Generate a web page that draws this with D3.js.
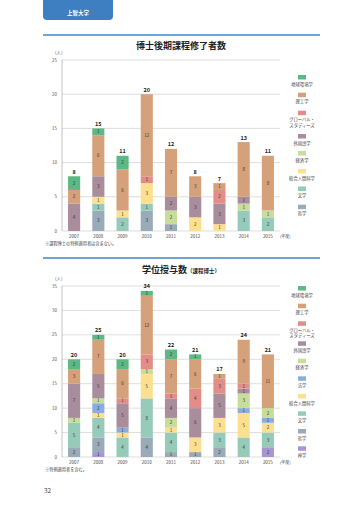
<!DOCTYPE html>
<html><head><meta charset="utf-8">
<script src="https://cdn.jsdelivr.net/npm/d3@7"></script>
<style>
body{margin:0;background:#fff;}
svg{display:block;font-family:"Noto Sans CJK JP","Noto Sans",sans-serif;}
</style></head><body>
<svg id="c" width="360" height="509"></svg>
<script>
const years = ["2007","2008","2009","2010","2011","2012","2013","2014","2015"];

// Chart 1: 博士後期課程修了者数 (stack order bottom -> top)
const c1Keys = ["哲学","文学","総合人間科学","経済学","外国語学","グローバル・スタディーズ","理工学","地球環境学"];
const c1_哲学 = [0,3,0,3,1,0,0,0,0];
const c1_文学 = [0,1,2,1,0,0,0,3,2];
const c1_総合人間科学 = [0,1,1,3,0,2,1,0,0];
const c1_経済学 = [0,0,0,0,2,0,0,1,1];
const c1_外国語学 = [4,3,0,0,2,3,3,1,0];
const c1_グローバル = [0,0,0,1,0,0,2,0,0];
const c1_理工学 = [2,6,6,12,7,3,1,8,8];
const c1_地球環境学 = [2,1,2,0,0,0,0,0,0];
const c1Ticks = [0,5,10,15,20,25];

// Chart 2: 学位授与数（課程博士）
const c2Keys = ["神学","哲学","文学","総合人間科学","法学","経済学","外国語学","グローバル・スタディーズ","理工学","地球環境学"];
const c2_神学 = [0,1,0,0,0,0,0,0,2];
const c2_哲学 = [2,3,0,4,1,1,2,0,0];
const c2_文学 = [5,4,4,8,4,0,3,4,3];
const c2_総合人間科学 = [0,1,1,5,1,3,3,5,2];
const c2_法学 = [0,2,1,0,0,0,0,1,1];
const c2_経済学 = [1,1,0,1,2,0,0,3,2];
const c2_外国語学 = [7,5,5,0,4,6,5,1,0];
const c2_グローバル = [0,0,1,3,1,4,3,1,0];
const c2_理工学 = [3,7,6,12,7,6,1,9,11];
const c2_地球環境学 = [2,1,2,1,2,1,0,0,0];
const c2Ticks = [0,5,10,15,20,25,30,35];

const colors = {
  "地球環境学":"#5cb884","理工学":"#d5a17a","グローバル・スタディーズ":"#e38d88",
  "外国語学":"#a98d9d","経済学":"#c9dd9a","法学":"#8aaedc","総合人間科学":"#fde08f",
  "文学":"#96cbba","哲学":"#99aab8","神学":"#a796d2"
};

const c1Series = {"哲学":c1_哲学,"文学":c1_文学,"総合人間科学":c1_総合人間科学,"経済学":c1_経済学,"外国語学":c1_外国語学,"グローバル・スタディーズ":c1_グローバル,"理工学":c1_理工学,"地球環境学":c1_地球環境学};
const c2Series = {"神学":c2_神学,"哲学":c2_哲学,"文学":c2_文学,"総合人間科学":c2_総合人間科学,"法学":c2_法学,"経済学":c2_経済学,"外国語学":c2_外国語学,"グローバル・スタディーズ":c2_グローバル,"理工学":c2_理工学,"地球環境学":c2_地球環境学};

const svg = d3.select("#c");

// header tab
svg.append("rect").attr("x",43).attr("y",-6).attr("width",70).attr("height",26).attr("rx",4).attr("fill","#3d7fc1");
svg.append("text").attr("x",78).attr("y",15).attr("text-anchor","middle").attr("fill","#fff")
  .attr("font-size",5.5).attr("font-weight","bold").text("上智大学");

function drawChart(opt){
  const g = svg.append("g");
  g.append("line").attr("x1",43).attr("x2",320).attr("y1",opt.lineY).attr("y2",opt.lineY)
    .attr("stroke","#3d88c9").attr("stroke-width",1.5);
  const t = g.append("text").attr("x",181).attr("y",opt.titleY).attr("text-anchor","middle")
    .attr("font-size",9).attr("font-weight","bold").attr("fill","#222");
  t.append("tspan").text(opt.title);
  if(opt.sub) t.append("tspan").attr("font-size",5.5).text(opt.sub);

  const x = d3.scaleBand().domain(years).range([62,280]).paddingInner(0.5).paddingOuter(0.25);
  const y = d3.scaleLinear().domain([0,opt.max]).range([opt.y0,opt.yTop]);

  g.append("text").attr("x",55).attr("y",opt.yTop-6).attr("font-size",4.5).attr("fill","#555").text("(人)");

  // grid
  g.selectAll(".grid").data(opt.ticks).enter().append("line")
    .attr("x1",62).attr("x2",280).attr("y1",d=>y(d)).attr("y2",d=>y(d))
    .attr("stroke","#d0d0d0").attr("stroke-width",0.7);
  g.selectAll(".tl").data(opt.ticks).enter().append("text")
    .attr("x",57).attr("y",d=>y(d)+1.6).attr("text-anchor","end").attr("font-size",4.5).attr("fill","#555").text(d=>d);
  g.append("line").attr("x1",62).attr("x2",62).attr("y1",opt.yTop).attr("y2",opt.y0).attr("stroke","#aaa").attr("stroke-width",0.7);

  const rows = years.map((yr,i)=>{const r={year:yr}; opt.keys.forEach(k=>r[k]=opt.series[k][i]); return r;});
  const stack = d3.stack().keys(opt.keys)(rows);
  stack.forEach(layer=>{
    const k = layer.key;
    layer.forEach((d,i)=>{
      const v = d[1]-d[0];
      if(v<=0) return;
      g.append("rect").attr("x",x(years[i])).attr("width",x.bandwidth())
        .attr("y",y(d[1])).attr("height",y(d[0])-y(d[1])).attr("fill",colors[k]);
      g.append("text").attr("x",x(years[i])+x.bandwidth()/2).attr("y",(y(d[0])+y(d[1]))/2+1.6)
        .attr("text-anchor","middle").attr("font-size",4.5).attr("fill","#333").text(v);
    });
  });
  // totals
  rows.forEach((r,i)=>{
    const tot = d3.sum(opt.keys,k=>r[k]);
    g.append("text").attr("x",x(years[i])+x.bandwidth()/2).attr("y",y(tot)-2.5)
      .attr("text-anchor","middle").attr("font-size",5.5).attr("font-weight","bold").attr("fill","#222").text(tot);
  });
  // x labels
  years.forEach(yr=>{
    g.append("text").attr("x",x(yr)+x.bandwidth()/2).attr("y",opt.y0+7).attr("text-anchor","middle")
      .attr("font-size",4.5).attr("fill","#444").text(yr);
  });
  g.append("text").attr("x",280).attr("y",opt.y0+7).attr("font-size",4).attr("fill","#444").text("(年度)");
  g.append("text").attr("x",45).attr("y",opt.y0+14).attr("font-size",4.2).attr("fill","#444").text(opt.note);

  // legend
  opt.legend.forEach((L,i)=>{
    const sy = opt.legendY[i];
    g.append("rect").attr("x",298).attr("y",sy-2).attr("width",8).attr("height",4.5).attr("fill",colors[L]);
    const lines = L==="グローバル・スタディーズ" ? ["グローバル・","スタディーズ"] : [L];
    lines.forEach((ln,j)=>{
      g.append("text").attr("x",302).attr("y",sy+8.5+j*5.3).attr("text-anchor","middle")
        .attr("font-size",4.3).attr("fill","#444").text(ln);
    });
  });
}

drawChart({
  lineY:35, titleY:49, title:"博士後期課程修了者数", sub:null,
  max:25, y0:231, yTop:60, ticks:c1Ticks, keys:c1Keys, series:c1Series,
  note:"※課程博士の特例適用者は含まない。",
  legend:["地球環境学","理工学","グローバル・スタディーズ","外国語学","経済学","総合人間科学","文学","哲学"],
  legendY:[77,94.7,112.7,136,153,171,188.5,206.7]
});
drawChart({
  lineY:258, titleY:273, title:"学位授与数", sub:"（課程博士）",
  max:35, y0:457, yTop:286, ticks:c2Ticks, keys:c2Keys, series:c2Series,
  note:"※特例適用者を含む。",
  legend:["地球環境学","理工学","グローバル・スタディーズ","外国語学","経済学","法学","総合人間科学","文学","哲学","神学"],
  legendY:[288,305.7,323.3,343.3,360.7,378.3,396,413.3,431,448.3]
});
svg.append("text").attr("x",44).attr("y",493).attr("font-size",6.5).attr("fill","#444").text("32");
</script></body></html>
